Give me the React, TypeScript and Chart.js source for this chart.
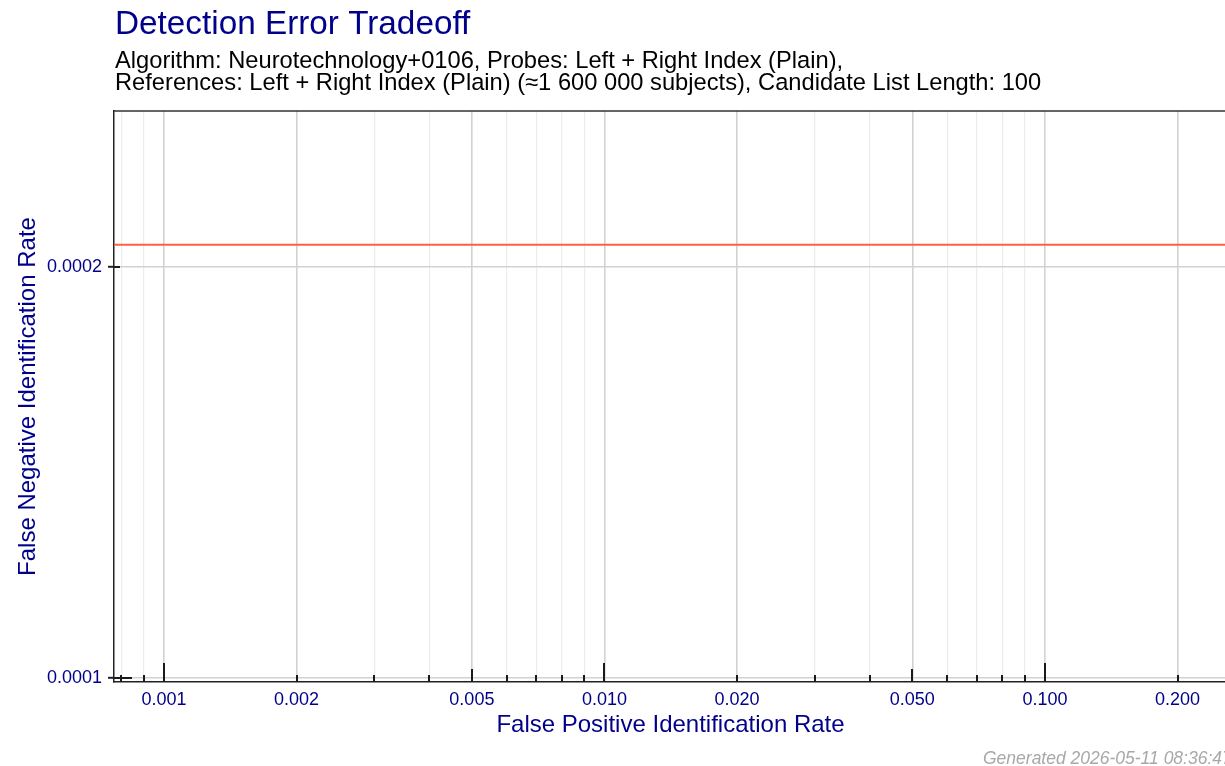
import React, { useEffect, useRef } from 'react';
import { Chart, registerables } from 'chart.js';

Chart.register(...registerables);

// ---- data ----
const fpir: number[] = [0.0005, 0.001, 0.01, 0.1, 1];
const fnir: number[] = [0.0002075, 0.0002075, 0.0002075, 0.0002075, 0.0002075];

const xTickValues: number[] = [
  0.0008, 0.0009, 0.001, 0.002, 0.003, 0.004, 0.005, 0.006, 0.007, 0.008, 0.009,
  0.01, 0.02, 0.03, 0.04, 0.05, 0.06, 0.07, 0.08, 0.09, 0.1, 0.2,
];
const xLabelValues: number[] = [0.001, 0.002, 0.005, 0.01, 0.02, 0.05, 0.1, 0.2];
const yTickValues: number[] = [0.0001, 0.0002];
const xRange: number[] = [0.00077, 0.259];
const yRange: number[] = [0.0000993, 0.00026];

const titleText = 'Detection Error Tradeoff';
const subtitleLines: string[] = [
  'Algorithm: Neurotechnology+0106, Probes: Left + Right Index (Plain),',
  'References: Left + Right Index (Plain) (≈1 600 000 subjects), Candidate List Length: 100',
];
const xTitle = 'False Positive Identification Rate';
const yTitle = 'False Negative Identification Rate';
const generatedText = 'Generated 2026-05-11 08:36:47';

const FONT = '"Liberation Sans", Arial, Helvetica, sans-serif';
const BLUE = '#00008B';
const W = 1240;
const H = 766;

const mant = (v: number) => {
  const e = Math.floor(Math.log10(v) + 1e-9);
  return Math.round(v / Math.pow(10, e));
};
const isMajor = (v: number) => {
  const m = mant(v);
  return m === 1 || m === 2 || m === 5;
};
const isLabeled = (v: number) => xLabelValues.some((l) => Math.abs(l - v) / l < 1e-6);

const decor = {
  id: 'decor',
  afterDatasetsDraw(chart: any) {
    const { ctx, chartArea: a, scales } = chart;
    const xs = scales.x;
    const ys = scales.y;
    ctx.save();
    ctx.strokeStyle = '#1a1a1a';
    ctx.lineWidth = 2;
    for (const v of xTickValues) {
      const px = Math.round(xs.getPixelForValue(v));
      const m = mant(v);
      const len = m === 1 ? 19 : m === 5 ? 13 : 7;
      ctx.beginPath();
      ctx.moveTo(px, a.bottom);
      ctx.lineTo(px, a.bottom - len);
      ctx.stroke();
    }
    for (const v of yTickValues) {
      const py = Math.round(ys.getPixelForValue(v));
      const m = mant(v);
      const len = m === 1 ? 18 : m === 5 ? 12 : 6;
      ctx.beginPath();
      ctx.moveTo(a.left, py);
      ctx.lineTo(a.left + len, py);
      ctx.stroke();
    }
    ctx.restore();
  },
  afterDraw(chart: any) {
    const { ctx, chartArea: a } = chart;
    ctx.save();
    ctx.strokeStyle = '#333333';
    ctx.lineWidth = 1.5;
    ctx.beginPath();
    ctx.moveTo(a.left, a.top);
    ctx.lineTo(a.right, a.top);
    ctx.lineTo(a.right, a.bottom);
    ctx.stroke();

    ctx.textAlign = 'left';
    ctx.textBaseline = 'alphabetic';
    ctx.fillStyle = BLUE;
    ctx.font = `33.3px ${FONT}`;
    ctx.fillText(titleText, 115, 34);
    ctx.fillStyle = '#000000';
    ctx.font = `23.7px ${FONT}`;
    ctx.fillText(subtitleLines[0], 115, 68);
    ctx.fillText(subtitleLines[1], 115, 90);
    ctx.fillStyle = '#a8a8a8';
    ctx.font = `italic 17.5px ${FONT}`;
    ctx.fillText(generatedText, 983, 764);
    ctx.restore();
  },
};

export default function App() {
  const ref = useRef<HTMLCanvasElement | null>(null);
  useEffect(() => {
    if (!ref.current) return;
    Chart.defaults.font.family = FONT;
    const chart = new Chart(ref.current, {
      type: 'line',
      data: {
        datasets: [
          {
            data: fpir.map((x, i) => ({ x, y: fnir[i] })),
            borderColor: '#FF5E45',
            borderWidth: 2,
            pointRadius: 0,
            tension: 0,
          },
        ],
      },
      options: {
        animation: false,
        responsive: false,
        devicePixelRatio: 1,
        layout: { padding: { top: 111, right: W - 1227, left: 0, bottom: 0 } },
        plugins: {
          legend: { display: false },
          title: { display: false },
          tooltip: { enabled: false },
        },
        scales: {
          x: {
            type: 'logarithmic',
            min: xRange[0],
            max: xRange[1],
            afterBuildTicks: (s: any) => {
              s.ticks = xTickValues.map((value) => ({ value }));
            },
            afterFit: (s: any) => {
              s.height = H - 682;
            },
            ticks: {
              autoSkip: false,
              maxRotation: 0,
              minRotation: 0,
              padding: 7,
              color: BLUE,
              font: { family: FONT, size: 18 },
              callback: (v: any) => (isLabeled(Number(v)) ? Number(v).toFixed(3) : ''),
            },
            grid: {
              drawTicks: false,
              color: (c: any) => (c.tick && isMajor(c.tick.value) ? '#d2d2d2' : '#ececec'),
              lineWidth: (c: any) => (c.tick && isMajor(c.tick.value) ? 1.6 : 1.2),
            },
            border: { display: true, color: '#222222', width: 1.5 },
            title: {
              display: true,
              text: xTitle,
              color: BLUE,
              font: { family: FONT, size: 24 },
              padding: { top: 0, bottom: 26 },
            },
          },
          y: {
            type: 'logarithmic',
            min: yRange[0],
            max: yRange[1],
            afterBuildTicks: (s: any) => {
              s.ticks = yTickValues.map((value) => ({ value }));
            },
            afterFit: (s: any) => {
              s.width = 114;
            },
            ticks: {
              autoSkip: false,
              padding: 6,
              color: BLUE,
              font: { family: FONT, size: 18 },
              callback: (v: any) => Number(v).toFixed(4),
            },
            grid: {
              drawTicks: true,
              tickLength: 6,
              tickColor: '#222222',
              tickWidth: 2,
              color: '#d2d2d2',
              lineWidth: 1.6,
            },
            border: { display: true, color: '#222222', width: 1.5 },
            title: {
              display: true,
              text: yTitle,
              color: BLUE,
              font: { family: FONT, size: 24 },
              padding: { top: 14, bottom: 0 },
            },
          },
        },
      },
      plugins: [decor],
    } as any);
    return () => chart.destroy();
  }, []);

  return (
    <div
      style={{
        position: 'fixed',
        left: 0,
        top: 0,
        width: 1225,
        height: H,
        overflow: 'hidden',
        background: '#ffffff',
      }}
    >
      <canvas ref={ref} width={W} height={H} style={{ display: 'block', width: W, height: H }} />
    </div>
  );
}
